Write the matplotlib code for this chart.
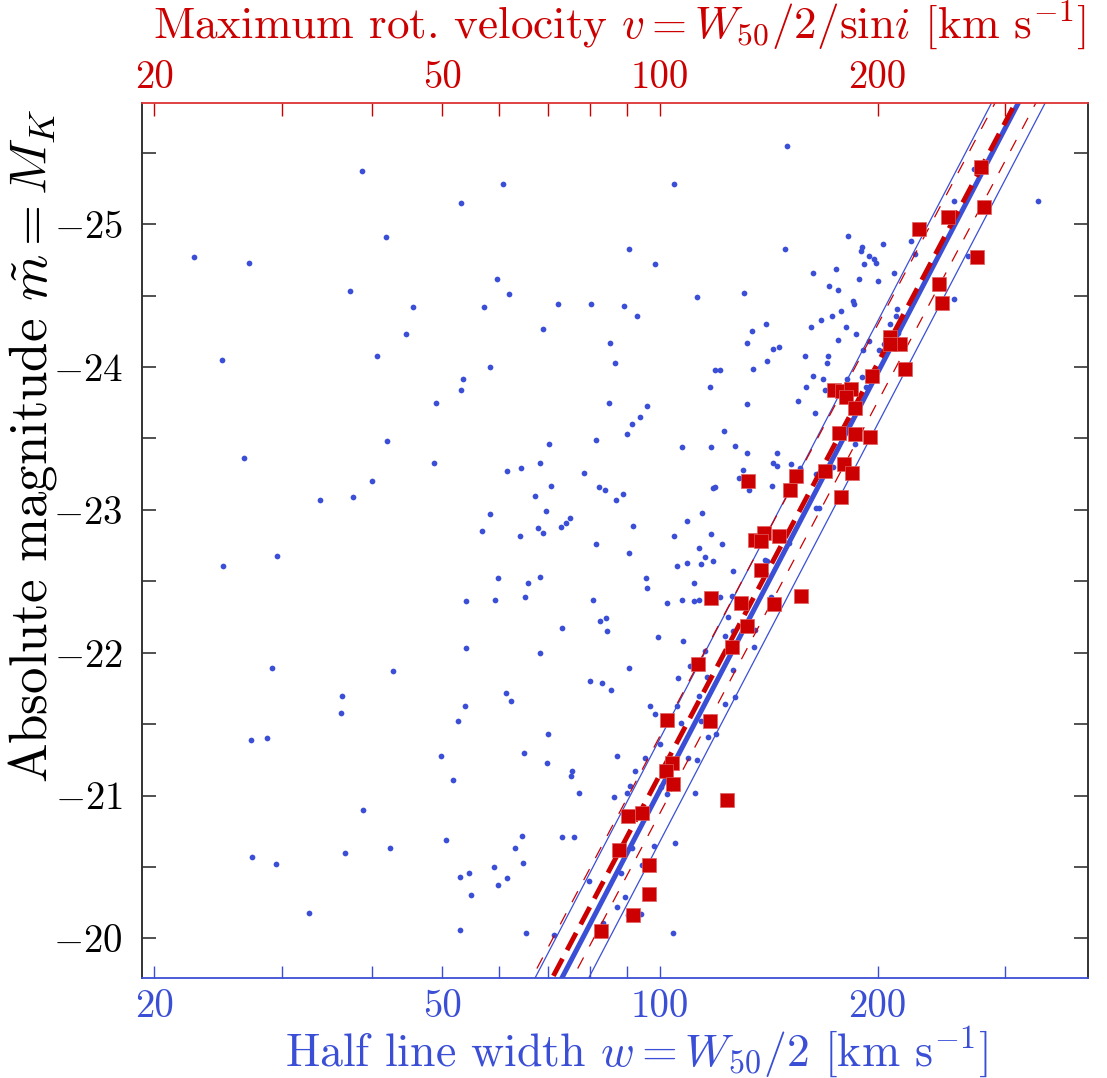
import numpy as np
import matplotlib
matplotlib.use("Agg")
import matplotlib.pyplot as plt
from matplotlib.ticker import FixedLocator, NullFormatter, FixedFormatter

plt.rcParams['font.family'] = 'serif'
plt.rcParams['font.serif'] = ['cmr10']
plt.rcParams['mathtext.fontset'] = 'cm'
plt.rcParams['axes.formatter.use_mathtext'] = True

BLUE = '#3a4fd6'
RED = '#cc0000'

# all galaxies: half line width w [km/s] and absolute magnitude M_K
blue_w = [
    38.7, 60.7, 53.1, 41.8, 22.7, 27.0, 59.5, 61.8, 37.3, 45.6, 57.1, 44.6, 40.6, 24.8,
    58.3, 53.4, 53.1, 49.1, 42.0, 26.6, 48.7, 61.5, 64.3, 40.0, 33.9, 37.6, 58.3, 56.8,
    64.1, 24.9, 29.6, 59.7, 65.7, 54.0, 59.1, 65.1, 54.0, 29.1, 42.7, 36.3, 36.2, 61.3,
    62.2, 53.7, 52.6, 27.2, 28.6, 49.8, 64.9, 51.7, 38.9, 50.6, 64.4, 63.1, 64.6, 27.3,
    29.5, 36.7, 42.4, 59.0, 52.9, 54.5, 59.7, 61.5, 54.8, 32.7, 52.9, 65.3,
    150.1, 104.5, 333.5, 254.6, 271.8, 90.5, 148.9, 98.3, 181.9, 203.7, 222.2, 225.2,
    190.5, 189.8, 194.3, 197.8, 198.9, 247.3, 266.8, 191.2, 163.0, 175.4, 210.6, 188.4,
    200.5, 171.1, 176.0, 130.7, 112.5, 72.3, 80.2, 89.3, 92.9, 254.9, 185.0, 185.2,
    178.2, 172.8, 167.0, 223.3, 212.6, 212.2, 208.2, 161.6, 180.6, 68.9, 140.1, 133.9,
    85.2, 131.9, 143.3, 146.1, 176.5, 186.5, 194.3, 191.0, 200.8, 204.2, 213.6, 158.7,
    170.8, 170.1, 140.5, 86.6, 119.1, 121.2, 134.3, 117.4, 159.0, 163.0, 167.9, 169.1,
    181.2, 190.5, 192.9, 155.4, 132.1, 163.8, 85.0, 96.1, 93.9, 91.4, 90.2, 81.7,
    122.8, 70.3, 107.2, 117.6, 127.1, 131.8, 145.2, 186.2, 68.3, 78.5, 143.4, 145.3,
    151.7, 156.2, 164.2, 130.2, 128.8, 133.0, 70.8, 82.4, 84.0, 89.0, 87.0, 67.2,
    69.5, 118.3, 119.3, 142.7, 164.4, 165.8, 173.5, 109.1, 114.5, 75.1, 74.2, 72.9,
    67.9, 68.9, 81.6, 91.7, 104.7, 117.6, 121.8, 113.3,
    90.6, 115.4, 118.5, 113.8, 109.0, 105.5, 126.3, 139.6, 140.5, 150.7, 68.2, 80.8,
    95.6, 96.0, 111.6, 102.4, 107.4, 111.3, 113.2, 121.0, 125.9, 142.3, 82.7, 84.2,
    84.5, 73.2, 99.4, 107.6, 124.4, 123.0, 126.3, 135.4, 135.1, 68.2, 90.6, 115.4,
    110.1, 126.3, 105.8, 116.2, 80.1, 83.2, 85.7, 113.2, 126.9, 123.0, 96.9, 98.4,
    105.5, 107.1, 114.0, 116.4, 119.7, 100.0, 70.0, 69.8, 87.1, 95.4, 109.3, 112.6,
    75.6, 75.3, 92.4, 90.8, 90.0, 77.3, 86.3, 100.3, 102.2, 111.7, 73.2, 76.1,
    91.6, 98.0, 105.0, 88.3, 94.5, 79.7, 89.5, 87.3, 94.1, 90.4, 83.4, 71.4, 104.3,
]
blue_m = [
    -25.37, -25.28, -25.15, -24.91, -24.77, -24.73, -24.62, -24.51, -24.53, -24.42, -24.42, -24.23, -24.08, -24.05,
    -24.00, -23.92, -23.84, -23.75, -23.48, -23.36, -23.33, -23.27, -23.29, -23.20, -23.07, -23.09, -22.97, -22.85,
    -22.82, -22.61, -22.68, -22.52, -22.49, -22.36, -22.37, -22.39, -22.03, -21.89, -21.87, -21.70, -21.58, -21.72,
    -21.66, -21.63, -21.52, -21.39, -21.40, -21.28, -21.30, -21.11, -20.90, -20.69, -20.72, -20.63, -20.53, -20.57,
    -20.52, -20.60, -20.63, -20.50, -20.43, -20.46, -20.37, -20.42, -20.30, -20.18, -20.06, -20.04,
    -25.55, -25.28, -25.16, -25.16, -25.39, -24.83, -24.83, -24.72, -24.92, -24.86, -24.88, -24.79,
    -24.84, -24.81, -24.78, -24.76, -24.73, -24.88, -24.78, -24.72, -24.66, -24.69, -24.66, -24.62,
    -24.60, -24.57, -24.54, -24.52, -24.49, -24.44, -24.44, -24.43, -24.36, -24.48, -24.46, -24.44,
    -24.39, -24.36, -24.33, -24.45, -24.41, -24.36, -24.30, -24.28, -24.28, -24.27, -24.30, -24.25,
    -24.17, -24.17, -24.13, -24.14, -24.19, -24.23, -24.18, -24.12, -24.12, -24.16, -24.24, -24.08,
    -24.08, -24.03, -24.04, -24.03, -23.98, -23.98, -23.99, -23.86, -23.86, -23.94, -23.92, -23.84,
    -23.92, -23.93, -23.86, -23.76, -23.74, -23.68, -23.75, -23.73, -23.65, -23.60, -23.53, -23.49,
    -23.55, -23.46, -23.44, -23.44, -23.45, -23.40, -23.40, -23.46, -23.33, -23.26, -23.33, -23.31,
    -23.32, -23.29, -23.25, -23.28, -23.22, -23.14, -23.17, -23.16, -23.14, -23.11, -23.07, -23.10,
    -22.99, -23.15, -23.16, -23.17, -23.01, -23.01, -23.30, -22.92, -22.98, -22.94, -22.91, -22.88,
    -22.87, -22.84, -22.76, -22.89, -22.82, -22.83, -22.76, -22.73,
    -22.70, -22.67, -22.64, -22.62, -22.63, -22.61, -22.57, -22.65, -22.64, -22.77, -22.53, -22.37,
    -22.52, -22.45, -22.49, -22.35, -22.37, -22.36, -22.37, -22.39, -22.40, -22.39, -22.22, -22.24,
    -22.15, -22.17, -22.11, -22.08, -22.25, -22.12, -22.15, -22.16, -22.04, -22.00, -21.89, -22.01,
    -21.91, -21.88, -21.82, -21.83, -21.80, -21.79, -21.74, -21.70, -21.69, -21.64, -21.63, -21.57,
    -21.63, -21.51, -21.52, -21.41, -21.43, -21.36, -21.43, -21.23, -21.28, -21.26, -21.26, -21.25,
    -21.17, -21.14, -21.17, -21.07, -21.02, -21.02, -20.99, -21.06, -21.01, -21.02, -20.71, -20.71,
    -20.63, -20.65, -20.67, -20.46, -20.51, -20.40, -20.29, -20.22, -20.17, -20.16, -20.11, -20.02, -20.04,
]

# calibrator galaxies (red squares)
red_w = [
    277.7, 280.4, 250.1, 228.2, 274.8, 242.8, 245.8, 208.2, 214.4, 207.8, 218.5, 196.4,
    174.1, 178.6, 183.5, 180.6, 186.0, 176.9, 186.0, 195.2, 179.7, 184.6, 169.3, 154.1,
    151.2, 178.0, 132.3, 135.2, 139.5, 146.3, 138.0, 137.9, 117.7, 129.5, 144.0, 156.9,
    131.8, 125.9, 113.0, 102.2, 117.2, 103.8, 101.9, 104.4, 123.9, 90.4, 94.5, 87.9,
    96.7, 96.7, 91.9, 82.9,
]
red_m = [
    -25.40, -25.12, -25.05, -24.97, -24.77, -24.58, -24.45, -24.21, -24.16, -24.16, -23.99, -23.94,
    -23.84, -23.83, -23.85, -23.79, -23.71, -23.54, -23.53, -23.51, -23.32, -23.26, -23.27, -23.24,
    -23.14, -23.09, -23.20, -22.79, -22.84, -22.82, -22.78, -22.58, -22.38, -22.35, -22.34, -22.40,
    -22.19, -22.04, -21.92, -21.53, -21.52, -21.23, -21.17, -21.08, -20.97, -20.86, -20.88, -20.62,
    -20.51, -20.31, -20.16, -20.05,
]

# Tully-Fisher fits: M = zp + slope * (log10 w - 2.2), band = +/- offset
blue_zp, blue_slope, blue_band = -22.98, -9.71, 0.36
red_zp, red_slope, red_band = -23.06, -9.57, 0.27

x_major = [20, 50, 100, 200]
x_labels = ['20', '50', '100', '200']
x_minor = [30, 40, 60, 70, 80, 90, 300]
y_major = [-25, -24, -23, -22, -21, -20]
y_labels = [r'$-25$', r'$-24$', r'$-23$', r'$-22$', r'$-21$', r'$-20$']
y_minor = [-25.5, -24.5, -23.5, -22.5, -21.5, -20.5]

fig = plt.figure(figsize=(11.07, 10.78), dpi=100)
ax = fig.add_axes([0.1285, 0.0930, 0.8546, 0.8117])
ax.set_xscale('log')
ax.set_xlim(19.25, 391)
ax.set_ylim(-19.724, -25.851)

ax.scatter(blue_w, blue_m, s=17, color=BLUE, linewidths=0, zorder=2)

w_line = np.array([15.0, 500.0])
lw = np.log10(w_line) - 2.2
m_blue = blue_zp + blue_slope * lw
m_red = red_zp + red_slope * lw
ax.plot(w_line, m_blue, color=BLUE, lw=3.6, zorder=3)
ax.plot(w_line, m_blue - blue_band, color=BLUE, lw=0.9, zorder=3)
ax.plot(w_line, m_blue + blue_band, color=BLUE, lw=0.9, zorder=3)
ax.plot(w_line, m_red, color=RED, lw=3.5, ls=(0, (4, 2)), zorder=4)
ax.plot(w_line, m_red - red_band, color=RED, lw=0.9, ls=(0, (10, 10)), zorder=4)
ax.plot(w_line, m_red + red_band, color=RED, lw=0.9, ls=(0, (10, 10)), zorder=4)

ax.scatter(red_w, red_m, s=95, marker='s', color=RED, edgecolors='#e06060',
           linewidths=0.5, zorder=5)

# axes styling
ax.xaxis.set_major_locator(FixedLocator(x_major))
ax.xaxis.set_major_formatter(FixedFormatter(x_labels))
ax.xaxis.set_minor_locator(FixedLocator(x_minor))
ax.xaxis.set_minor_formatter(NullFormatter())
ax.yaxis.set_major_locator(FixedLocator(y_major))
ax.yaxis.set_major_formatter(FixedFormatter(y_labels))
ax.yaxis.set_minor_locator(FixedLocator(y_minor))

ax.tick_params(axis='x', which='both', direction='in', length=9, width=1.0,
               colors=BLUE, labelsize=28, pad=8, top=False)
ax.tick_params(axis='y', which='both', direction='in', length=10, width=1.2,
               color='#333333', labelsize=28, pad=14, left=True, right=True)
ax.spines['top'].set_visible(False)
ax.spines['bottom'].set_color(BLUE)
ax.spines['bottom'].set_linewidth(1.3)
for side in ['left', 'right']:
    ax.spines[side].set_color('#333333')
    ax.spines[side].set_linewidth(1.4)

ax2 = ax.twiny()
ax2.set_xscale('log')
ax2.set_xlim(ax.get_xlim())
ax2.xaxis.set_major_locator(FixedLocator(x_major))
ax2.xaxis.set_major_formatter(FixedFormatter(x_labels))
ax2.xaxis.set_minor_locator(FixedLocator(x_minor))
ax2.xaxis.set_minor_formatter(NullFormatter())
ax2.tick_params(axis='x', which='both', direction='in', length=9, width=1.0,
                colors=RED, labelsize=28, pad=5)
for side in ['left', 'right', 'bottom']:
    ax2.spines[side].set_visible(False)
ax2.spines['top'].set_color('#dd3333')
ax2.spines['top'].set_linewidth(1.3)

fig.text(636 / 1107, 1 - 1052 / 1078, r'Half line width $w = W_{50}/2$ [km s$^{-1}$]',
         ha='center', va='center', color=BLUE, fontsize=33)
fig.text(620 / 1107, 1 - 25 / 1078,
         r'Maximum rot. velocity $v = W_{50}/2/\mathrm{sin}i$ [km s$^{-1}$]',
         ha='center', va='center', color=RED, fontsize=32.5)
fig.text(33 / 1107, 1 - 446 / 1078, r'Absolute magnitude $\tilde{m} = M_K$',
         ha='center', va='center', rotation=90, color='black', fontsize=38)

fig.savefig('out.png', dpi=100)
